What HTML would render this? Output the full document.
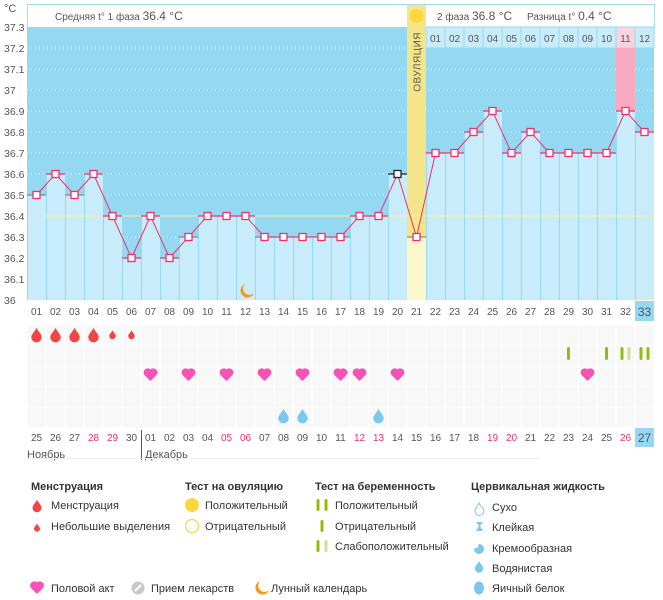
<!DOCTYPE html>
<html><head><meta charset="utf-8"><style>
body{margin:0;background:#fff;width:663px;height:595px;overflow:hidden;font-family:"Liberation Sans","DejaVu Sans",sans-serif}
svg text{font-family:"Liberation Sans","DejaVu Sans",sans-serif}
</style></head><body>
<svg id="s" width="663" height="595" xmlns="http://www.w3.org/2000/svg"></svg>
<script>
const T=[36.5,36.6,36.5,36.6,36.4,36.2,36.4,36.2,36.3,36.4,36.4,36.4,36.3,36.3,36.3,36.3,36.3,36.4,36.4,36.6,36.3,36.7,36.7,36.8,36.9,36.7,36.8,36.7,36.7,36.7,36.7,36.9,36.8];
const gray=[1,3,9,13,14,15,16,17,21];
const X=i=>27+(i-1)*19, Y=t=>27+(37.3-t)*210;
let h='';
h+='<rect x="27.5" y="4.5" width="627" height="23" fill="#fff" stroke="#a6dcf0"/>';
h+='<text x="55" y="20" font-size="10" fill="#555">Средняя t° 1 фаза <tspan font-size="12">36.4 °C</tspan></text>';
h+='<text x="437" y="20" font-size="10" fill="#555">2 фаза <tspan font-size="12">36.8 °C</tspan></text>';
h+='<text x="527" y="20" font-size="10" fill="#555">Разница t° <tspan font-size="12">0.4 °C</tspan></text>';
h+='<text x="4" y="12" font-size="11" fill="#555">°C</text>';
h+='<rect x="27" y="27" width="627" height="273" fill="#94d8f2"/>';
for(let k=1;k<13;k++){let y=27+k*21;h+=`<line x1="27" x2="654" y1="${y}" y2="${y}" stroke="#fff" stroke-dasharray="1 3" opacity=".8"/>`;}
for(let k=0;k<=13;k++){let v=(37.3-k*0.1);let s=(Math.round(v*10)/10).toString();h+=`<text x="4" y="${31+k*21}" font-size="10.5" fill="#555">${s}</text>`;}
for(let i=22;i<=33;i++){let x=X(i);h+=`<rect x="${x}" y="27" width="19" height="21" fill="${i==32?'#fbd3de':'#c9ecfb'}" stroke="#94d8f2" stroke-width="1"/><text x="${x+9.5}" y="42" font-size="10" fill="#555" text-anchor="middle">${String(i-21).padStart(2,'0')}</text>`;}
h+=`<rect x="${X(32)}" y="48" width="19" height="${Y(36.9)-48}" fill="#f9aac0"/>`;
for(let i=1;i<=33;i++){if(i==21)continue;let x=X(i),y=Y(T[i-1]);h+=`<rect x="${x}" y="${y}" width="19" height="${300-y}" fill="#c9ecfb"/><line x1="${x+0.5}" x2="${x+0.5}" y1="${y}" y2="300" stroke="#94d8f2"/>`;}
let ox=X(21);
h+=`<rect x="${ox}" y="5" width="19" height="${Y(36.3)-5}" fill="#f5e58a"/><rect x="${ox}" y="${Y(36.3)}" width="19" height="${300-Y(36.3)}" fill="#fdf8cc"/>`;
h+=`<circle cx="${ox+9.5}" cy="16" r="7" fill="#fdd53f"/>`;
h+=`<text transform="translate(${ox+13.5},32) rotate(-90)" font-size="10" fill="#555" text-anchor="end" letter-spacing="0.5">ОВУЛЯЦИЯ</text>`;
h+=`<line x1="${X(2)}" x2="654" y1="${Y(36.4)}" y2="${Y(36.4)}" stroke="#f5efa0" stroke-width="1"/>`;
let pts=T.map((t,i)=>`${X(i+1)+9.5},${Y(t)}`).join(' ');
for(let i=1;i<=33;i++){let x=X(i),y=Y(T[i-1]);let c=i==20?'#222':(gray.includes(i)?'#888':'#f0306a');h+=`<line x1="${x}" x2="${x+19}" y1="${y}" y2="${y}" stroke="${c}" stroke-width="1.3"/>`;}
h+=`<polyline points="${pts}" fill="none" stroke="#f0306a" stroke-width="1"/>`;
for(let i=1;i<=33;i++){let x=X(i)+9.5,y=Y(T[i-1]);h+=`<rect x="${x-3.5}" y="${y-3.5}" width="7" height="7" fill="#fff" stroke="${i==20?'#222':'#f0306a'}" stroke-width="1.3"/>`;}
h+=`<path d="M245 284 a7 7 0 1 0 9 9 a6 6 0 0 1 -9 -9z" fill="#f39a1a"/>`;
h+='<rect x="27" y="300" width="627" height="147" fill="#fff"/>';
for(let i=1;i<=33;i++){let x=X(i);for(let r=0;r<5;r++){h+=`<rect x="${x+0.5}" y="${325.5+r*20.5}" width="18" height="20" fill="#f8f8f8"/>`;}
 h+=`<text x="${x+9.5}" y="315" font-size="10" fill="#555" text-anchor="middle">${String(i).padStart(2,'0')}</text>`;}
h+=`<rect x="${X(33)}" y="301" width="19" height="20" fill="#94d8f2"/><text x="${X(33)+9.5}" y="316" font-size="12" fill="#555" text-anchor="middle">33</text>`;
const D=[25,26,27,28,29,30,1,2,3,4,5,6,7,8,9,10,11,12,13,14,15,16,17,18,19,20,21,22,23,24,25,26,27];
const red=[4,5,11,12,18,19,25,26,32];
for(let i=1;i<=33;i++){let x=X(i);if(i==33){h+=`<rect x="${x}" y="428" width="19" height="19" fill="#94d8f2"/><text x="${x+9.5}" y="442" font-size="12" fill="#555" text-anchor="middle">27</text>`;continue;}
 h+=`<text x="${x+9.5}" y="441" font-size="10" fill="${red.includes(i)?'#f0306a':'#555'}" text-anchor="middle">${String(D[i-1]).padStart(2,'0')}</text>`;}
h+='<line x1="141.5" x2="141.5" y1="430" y2="460" stroke="#555"/>';
h+='<text x="27" y="458" font-size="11" fill="#555">Ноябрь</text><text x="145" y="458" font-size="11" fill="#555">Декабрь</text>';
h+='<line x1="27" x2="540" y1="458.5" y2="458.5" stroke="#eee"/>';
const drop=(cx,cy,s,c)=>`<path d="M${cx} ${cy-6*s} C${cx+1*s} ${cy-3*s} ${cx+5*s} ${cy} ${cx+5*s} ${cy+3*s} A${5*s} ${5*s} 0 0 1 ${cx-5*s} ${cy+3*s} C${cx-5*s} ${cy} ${cx-1*s} ${cy-3*s} ${cx} ${cy-6*s}z" fill="${c}"/>`;
const heart=(cx,cy,c)=>`<path d="M${cx} ${cy+6} L${cx-5.5} ${cy+0.5} A3 3 0 0 1 ${cx} ${cy-3.5} A3 3 0 0 1 ${cx+5.5} ${cy+0.5} Z" fill="${c}" stroke="${c}" stroke-width="1.5" stroke-linejoin="round"/>`;
for(let i=1;i<=6;i++){h+=drop(X(i)+9.5,334,i<=4?1.05:0.65,'#f24545');}
[7,9,11,13,15,17,18,20,30].forEach(i=>h+=heart(X(i)+9.5,374,'#f653b6'));
[14,15,19].forEach(i=>h+=drop(X(i)+9.5,415,1.05,'#7cc6f0'));
const bar=(x,c)=>`<rect x="${x-1.5}" y="347" width="3" height="13" rx="1.5" fill="${c}"/>`;
h+=bar(X(29)+9.5,'#92bd0c')+bar(X(31)+9.5,'#92bd0c');
h+=bar(X(32)+6,'#92bd0c')+bar(X(32)+13,'#cde09a');
h+=bar(X(33)+6,'#92bd0c')+bar(X(33)+13,'#92bd0c');
const L=(x,y,t,b)=>`<text x="${x}" y="${y}" font-size="11" fill="#333" ${b?'font-weight="bold"':''}>${t}</text>`;
h+=L(31,490,'Менструация',1)+L(51,509,'Менструация')+L(51,530,'Небольшие выделения');
h+=drop(37,505,0.9,'#f24545')+drop(37,527,0.6,'#f24545');
h+=L(185,490,'Тест на овуляцию',1)+L(205,509,'Положительный')+L(205,530,'Отрицательный');
h+='<circle cx="192" cy="505" r="7" fill="#fdd53f"/><circle cx="192" cy="526" r="6.5" fill="#fff" stroke="#fdd53f" stroke-width="1.2"/>';
h+=L(315,490,'Тест на беременность',1)+L(335,509,'Положительный')+L(335,530,'Отрицательный')+L(335,550,'Слабоположительный');
const lb=(x,y,c)=>`<rect x="${x-1.5}" y="${y}" width="3" height="12" rx="1.5" fill="${c}"/>`;
h+=lb(318,499,'#92bd0c')+lb(326,499,'#92bd0c')+lb(322,520,'#92bd0c')+lb(318,540,'#92bd0c')+lb(326,540,'#cde09a');
h+=L(471,490,'Цервикальная жидкость',1)+L(492,511,'Сухо')+L(492,531,'Клейкая')+L(492,552,'Кремообразная')+L(492,572,'Водянистая')+L(492,592,'Яичный белок');
h+=`<path d="M479 503 C480 506 484 508 484 511 A4 4 0 0 1 475 511 C475 508 478 506 479 503z" fill="none" stroke="#7cc6f0"/>`;
h+=`<path d="M476 522 h7 l-3 4 l3 5 h-7 l3 -5z" fill="#7cc6f0"/>`;
h+=`<circle cx="479" cy="549" r="5" fill="#7cc6f0"/><circle cx="475" cy="545" r="3.5" fill="#fff"/>`;
h+=drop(479,566,0.85,'#7cc6f0');
h+='<ellipse cx="479" cy="588" rx="5" ry="6.5" fill="#7cc6f0"/>';
h+=heart(37,587,'#f653b6')+L(51,592,'Половой акт');
h+='<circle cx="138" cy="588" r="6.5" fill="#c8c8c8"/><line x1="135" y1="591" x2="141" y2="585" stroke="#fff" stroke-width="2"/>'+L(151,592,'Прием лекарств');
h+='<path d="M260 581 a7 7 0 1 0 9 9 a6 6 0 0 1 -9 -9z" fill="#f39a1a"/>'+L(271,592,'Лунный календарь');
document.getElementById('s').innerHTML=h;
</script>
</body></html>
